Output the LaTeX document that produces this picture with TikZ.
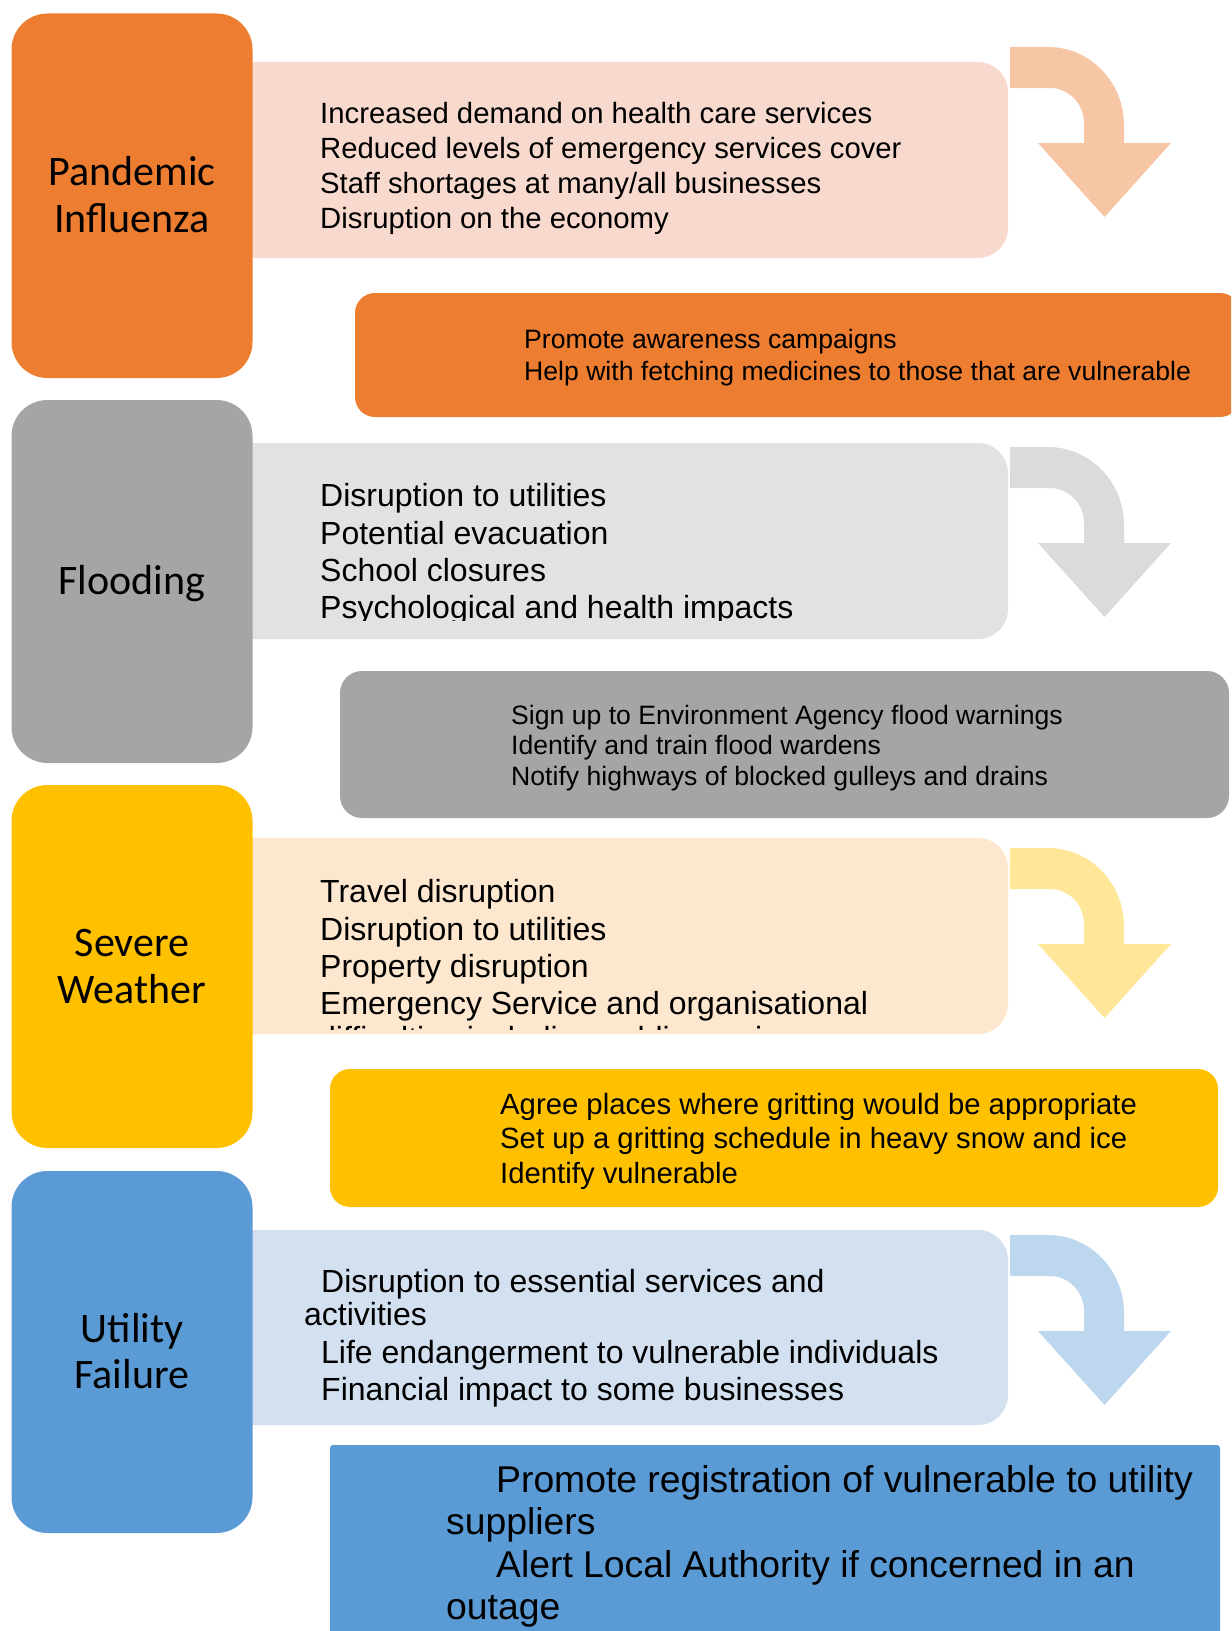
\documentclass[tikz,border=0pt]{standalone}
\usepackage{fontspec}
\setmainfont{Liberation Sans}
\newfontfamily\labelfont{Carlito}
\definecolor{cOrange}{HTML}{ED7D31}
\definecolor{cGrey}{HTML}{A5A5A5}
\definecolor{cGold}{HTML}{FFC000}
\definecolor{cBlue}{HTML}{5B9BD5}
\definecolor{lOrange}{HTML}{F7D9CE}
\definecolor{lGrey}{HTML}{E2E2E2}
\definecolor{lGold}{HTML}{FEE7CF}
\definecolor{lBlue}{HTML}{D3E0F0}
\definecolor{aOrange}{HTML}{F7C6A5}
\definecolor{aGrey}{HTML}{DBDBDB}
\definecolor{aGold}{HTML}{FFE699}
\definecolor{aBlue}{HTML}{BDD7EE}
\newcommand\bentarrow[2]{%
  \begin{scope}[shift={(0,#2)}]
    \fill[#1] (1010,0) -- (1048,0) .. controls (1090,0) and (1124,35) .. (1124,78)
      -- (1124,96) -- (1171,96) -- (1104.5,170) -- (1038,96) -- (1084,96) -- (1084,76)
      .. controls (1084,57) and (1069,41) .. (1050,41) -- (1010,41) -- cycle;
  \end{scope}}
\begin{document}
\begin{tikzpicture}[x=1bp,y=-1bp,
  lbl/.style={inner sep=0, anchor=base, font=\labelfont\fontsize{42bp}{47bp}\selectfont},
  txt/.style={inner sep=0, anchor=base west},
  tA/.style={txt, font=\fontsize{29.3bp}{35bp}\selectfont},
  tB/.style={txt, font=\fontsize{32bp}{38bp}\selectfont},
  tC/.style={txt, font=\fontsize{26.6bp}{31bp}\selectfont},
  tD/.style={txt, font=\fontsize{29.3bp}{35bp}\selectfont},
  tE/.style={txt, font=\fontsize{37.3bp}{43bp}\selectfont},
]
\useasboundingbox (0,0) rectangle (1231,1631);
\clip (0,0) rectangle (1231,1631);

% light consequence boxes
\fill[lOrange, rounded corners=30bp] (200,62) rectangle (1008,258);
\fill[lGrey,   rounded corners=30bp] (200,443) rectangle (1008,639);
\fill[lGold,   rounded corners=30bp] (200,838) rectangle (1008,1034);
\fill[lBlue,   rounded corners=30bp] (200,1230) rectangle (1008,1425);

% label boxes
\fill[cOrange, rounded corners=36bp] (11.5,13.5) rectangle (252.5,378);
\fill[cGrey,   rounded corners=36bp] (11.5,400) rectangle (252.5,763);
\fill[cGold,   rounded corners=36bp] (11.5,785) rectangle (252.5,1148);
\fill[cBlue,   rounded corners=36bp] (11.5,1171) rectangle (252.5,1533);

% action boxes
\fill[cOrange, rounded corners=20bp] (355,293) rectangle (1240,417);
\fill[cGrey,   rounded corners=22bp] (340,671) rectangle (1229,818);
\fill[cGold,   rounded corners=20bp] (330,1069) rectangle (1218,1207);
\fill[cBlue,   rounded corners=3bp]  (330,1445) rectangle (1220,1660);

% bent arrows
\bentarrow{aOrange}{47}
\bentarrow{aGrey}{447}
\bentarrow{aGold}{848}
\bentarrow{aBlue}{1235}

% labels
\node[lbl] (l1a) at (132,185) {Pandemic};
\node[lbl] (l1b) at (132,232) {Influenza};
\node[lbl] (l2a) at (132,594) {Flooding};
\node[lbl] (l3a) at (132,956) {Severe};
\node[lbl] (l3b) at (132,1003) {Weather};
\node[lbl] (l4a) at (132,1342) {Utility};
\node[lbl] (l4b) at (132,1388) {Failure};

% pandemic consequences
\node[tA] (p1) at (320,123) {Increased demand on health care services};
\node[tA] (p2) at (320,158.5) {Reduced levels of emergency services cover};
\node[tA] (p3) at (320,193.5) {Staff shortages at many/all businesses};
\node[tA] (p4) at (320,228.5) {Disruption on the economy};

% pandemic actions
\node[tC] (pa1) at (524,348) {Promote awareness campaigns};
\node[tC] (pa2) at (524,380) {Help with fetching medicines to those that are vulnerable};

% flooding consequences (clipped)
\begin{scope}
  \clip (250,443) rectangle (1008,620);
  \node[tB] (f1) at (320,506) {Disruption to utilities};
  \node[tB] (f2) at (320,544) {Potential evacuation};
  \node[tB] (f3) at (320,581) {School closures};
  \node[tB] (f4) at (320,618) {Psychological and health impacts};
\end{scope}

% flooding actions
\node[tC] (fa1) at (511,724) {Sign up to Environment Agency flood warnings};
\node[tC] (fa2) at (511,754.5) {Identify and train flood wardens};
\node[tC] (fa3) at (511,785) {Notify highways of blocked gulleys and drains};

% severe weather consequences (clipped)
\begin{scope}
  \clip (250,838) rectangle (1008,1029);
  \node[tB] (s1) at (320,902) {Travel disruption};
  \node[tB] (s2) at (320,940) {Disruption to utilities};
  \node[tB] (s3) at (320,977) {Property disruption};
  \node[tB] (s4) at (320,1014) {Emergency Service and organisational};
  \node[tB] (s5) at (318,1049) {difficulties including public services};
\end{scope}

% severe weather actions
\node[tD] (sa1) at (500,1114) {Agree places where gritting would be appropriate};
\node[tD] (sa2) at (500,1148) {Set up a gritting schedule in heavy snow and ice};
\node[tD] (sa3) at (500,1183) {Identify vulnerable};

% utility consequences
\node[tB] (u1) at (321,1292) {Disruption to essential services and};
\node[tB] (u2) at (304,1325) {activities};
\node[tB] (u3) at (321,1363) {Life endangerment to vulnerable individuals};
\node[tB] (u4) at (321,1400) {Financial impact to some businesses};

% utility actions
\node[tE] (ua1) at (496,1492) {Promote registration of vulnerable to utility};
\node[tE] (ua2) at (446,1534) {suppliers};
\node[tE] (ua3) at (496,1577) {Alert Local Authority if concerned in an};
\node[tE] (ua4) at (446,1619) {outage};
\end{tikzpicture}
\end{document}
